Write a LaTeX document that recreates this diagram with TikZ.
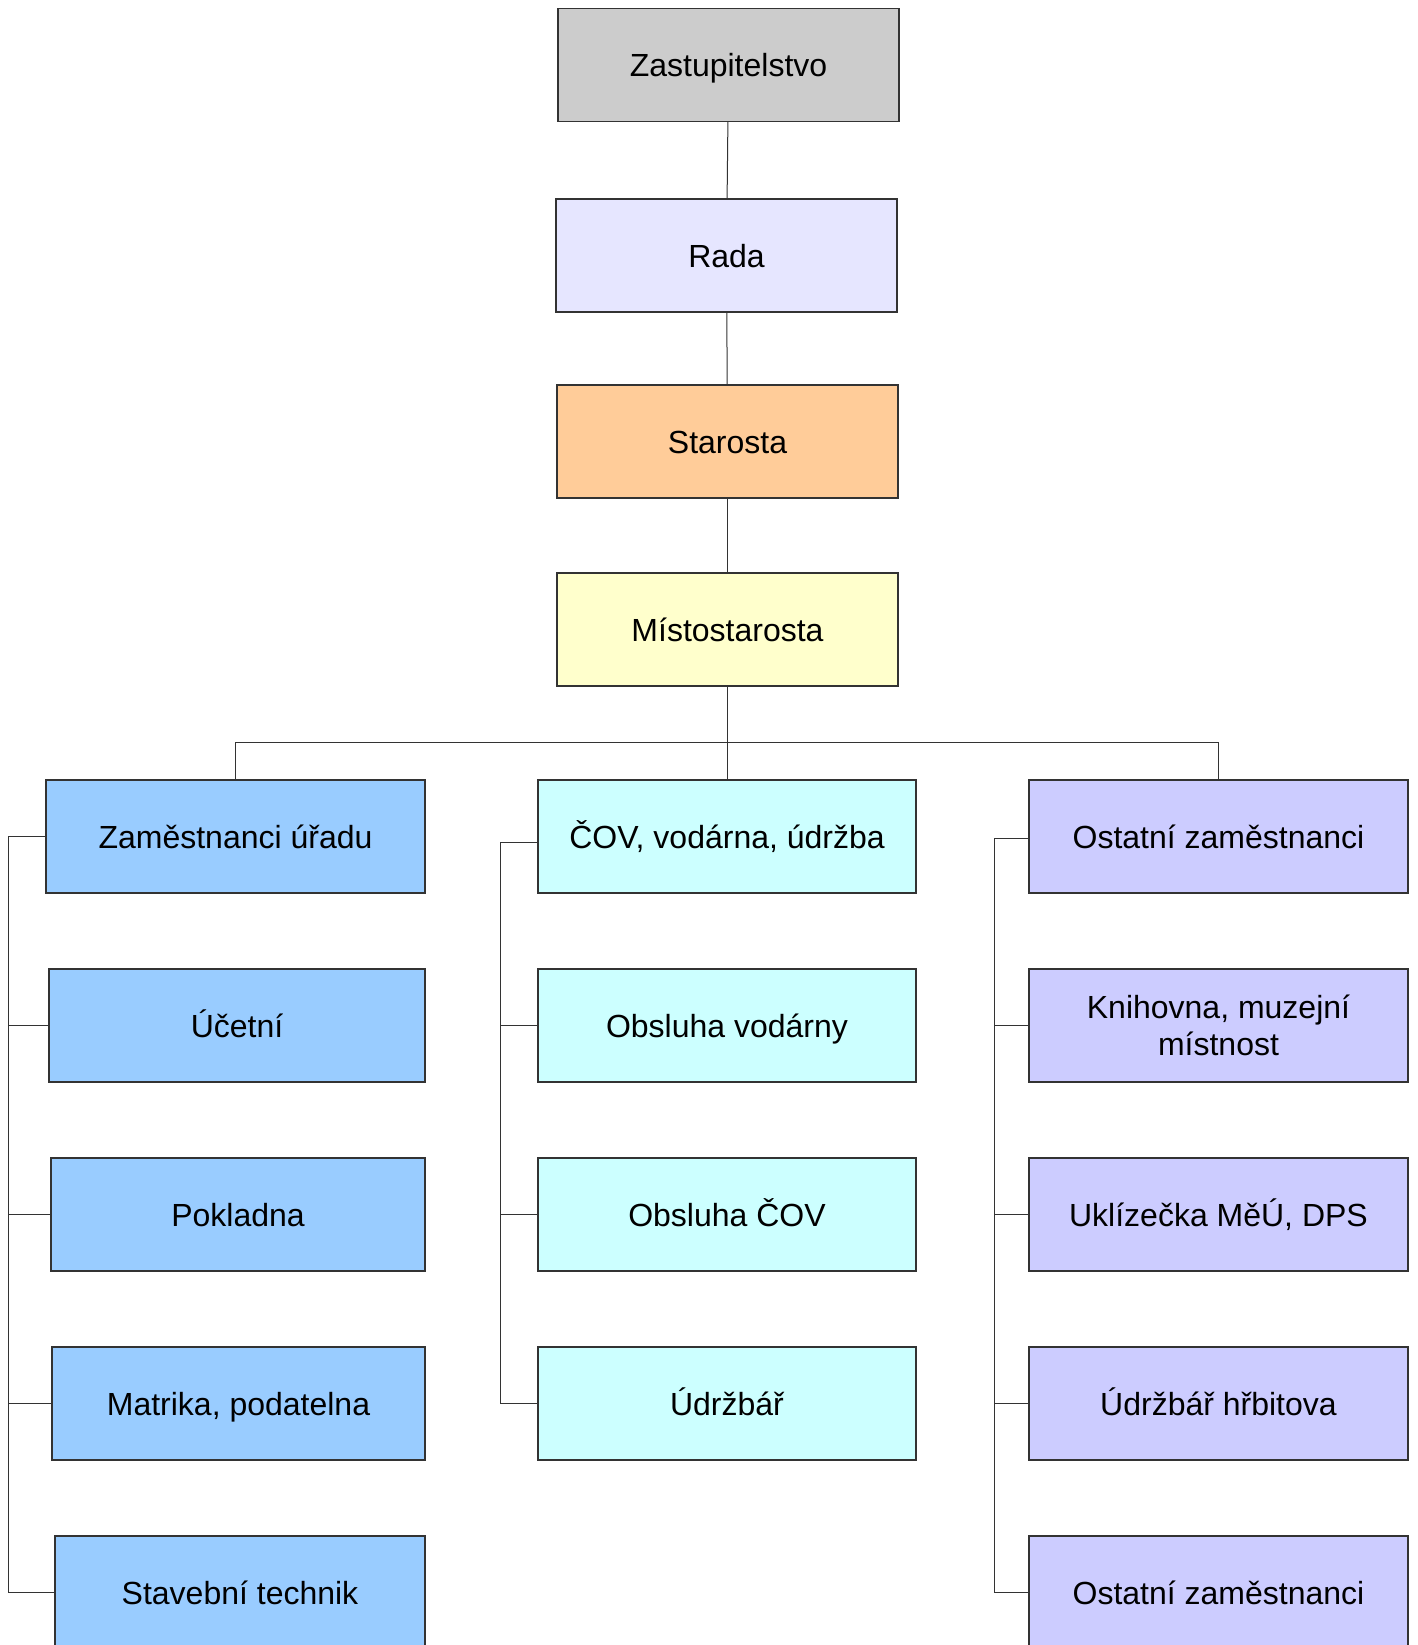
\documentclass[tikz,border=0pt]{standalone}
\usepackage{fontspec}
\setmainfont{Liberation Sans}
\definecolor{cgray}{HTML}{CCCCCC}
\definecolor{crada}{HTML}{E6E6FF}
\definecolor{cstar}{HTML}{FFCC99}
\definecolor{cmist}{HTML}{FFFFCC}
\definecolor{cleft}{HTML}{99CCFF}
\definecolor{ccent}{HTML}{CCFFFF}
\definecolor{cright}{HTML}{CCCCFF}
\definecolor{cline}{HTML}{333333}
\begin{document}
\begin{tikzpicture}[x=0.5pt,y=-0.5pt,
  boxbase/.style={draw=cline,line width=0.6pt,rectangle,inner sep=0pt,minimum height=56.5pt,
    font=\fontsize{16}{18.5}\selectfont,align=center,text=black},
  box/.style={boxbase,text height=11.5pt,text depth=0pt},
  conn/.style={draw=cline,line width=0.5pt}]
\useasboundingbox (0,0) rectangle (1418,1645);
\begin{scope}
\clip (0,0) rectangle (1418,1645);
% top chain
\node[box,fill=cgray,minimum width=170.5pt] (zast) at (728.5,65) {Zastupitelstvo};
\node[box,fill=crada,minimum width=170.5pt] (rada) at (726.5,255.5) {Rada};
\node[box,fill=cstar,minimum width=170.5pt] (star) at (727.5,441.5) {Starosta};
\node[box,fill=cmist,minimum width=170.5pt] (mist) at (727.5,629.5) {Místostarosta};
% left column
\node[box,fill=cleft,minimum width=189.5pt] (L1) at (235.5,836.5) {Zaměstnanci úřadu};
\node[box,fill=cleft,minimum width=188pt] (L2) at (237,1025.5) {Účetní};
\node[box,fill=cleft,minimum width=187pt] (L3) at (238,1214.5) {Pokladna};
\node[box,fill=cleft,minimum width=186.5pt] (L4) at (238.5,1403.5) {Matrika, podatelna};
\node[box,fill=cleft,minimum width=185pt] (L5) at (240,1592.5) {Stavební technik};
% center column
\node[box,fill=ccent,minimum width=189pt] (C1) at (727,836.5) {ČOV, vodárna, údržba};
\node[box,fill=ccent,minimum width=189pt] (C2) at (727,1025.5) {Obsluha vodárny};
\node[box,fill=ccent,minimum width=189pt] (C3) at (727,1214.5) {Obsluha ČOV};
\node[box,fill=ccent,minimum width=189pt] (C4) at (727,1403.5) {Údržbář};
% right column
\node[box,fill=cright,minimum width=189.5pt] (R1) at (1218.5,836.5) {Ostatní zaměstnanci};
\node[boxbase,fill=cright,minimum width=189.5pt] (R2) at (1218.5,1025.5) {Knihovna, muzejní\\místnost};
\node[box,fill=cright,minimum width=189.5pt] (R3) at (1218.5,1214.5) {Uklízečka MěÚ, DPS};
\node[box,fill=cright,minimum width=189.5pt] (R4) at (1218.5,1403.5) {Údržbář hřbitova};
\node[box,fill=cright,minimum width=189.5pt] (R5) at (1218.5,1592.5) {Ostatní zaměstnanci};
% spines
\coordinate (bus) at (0,742);
\coordinate (spineL) at (8,0);
\coordinate (spineC) at (500,0);
\coordinate (spineR) at (994,0);
% top connectors
\draw[conn] (zast) -- (rada);
\draw[conn] (rada) -- (star);
\draw[conn] (star) -- (mist);
\draw[conn] (mist) -- (mist.south |- bus);
\draw[conn] (L1.north) -- (L1.north |- bus) -- (R1.north |- bus) -- (R1.north);
\draw[conn] (C1.north |- bus) -- (C1.north);
% left branch
\draw[conn] (L1.west) -- (L1.west -| spineL) -- (L5.west -| spineL) -- (L5.west);
\foreach \n in {L2,L3,L4} \draw[conn] (\n.west -| spineL) -- (\n.west);
% center branch
\draw[conn] ([yshift=-3pt]C1.west) -- ([yshift=-3pt]C1.west -| spineC) -- (C4.west -| spineC) -- (C4.west);
\foreach \n in {C2,C3} \draw[conn] (\n.west -| spineC) -- (\n.west);
% right branch
\draw[conn] ([yshift=-1pt]R1.west) -- ([yshift=-1pt]R1.west -| spineR) -- (R5.west -| spineR) -- (R5.west);
\foreach \n in {R2,R3,R4} \draw[conn] (\n.west -| spineR) -- (\n.west);
\end{scope}
\end{tikzpicture}
\end{document}
